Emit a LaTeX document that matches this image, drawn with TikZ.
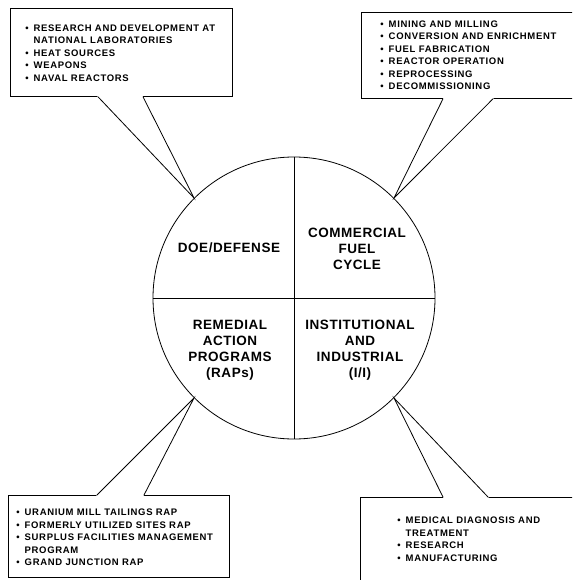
\documentclass[tikz,border=0pt]{standalone}
\usepackage{fontspec}
\setmainfont{Liberation Sans}
\newfontfamily\listfont{Liberation Sans}[LetterSpace=7]
\newfontfamily\sectorfont{Liberation Sans}[LetterSpace=4]
\usetikzlibrary{calc}

\tikzset{
	box/.style={draw, line width=0.8pt, anchor=north west, inner sep=0},
	list/.style={anchor=base west, inner sep=0, font=\listfont\bfseries\fontsize{9.5}{12.5}\selectfont},
	sector/.style={align=center, inner sep=0, font=\sectorfont\bfseries\fontsize{13.5}{16}\selectfont},
}

\begin{document}
\begin{tikzpicture}[x=1pt, y=-1pt, line width=0.8pt]
	\useasboundingbox (0,0) rectangle (572,580);
	\clip (0,0) rectangle (572,580);
	\fill[white] (0,0) rectangle (572,580);

	% callout boxes
	\node[box, minimum width=222pt, minimum height=88pt] (defbox) at (10,8) {};
	\node[box, minimum width=260pt, minimum height=86pt] (fuelbox) at (361,12) {};
	\node[box, minimum width=221pt, minimum height=82pt] (rapbox) at (8,495) {};
	\node[box, minimum width=260pt, minimum height=120pt] (iibox) at (360,497) {};

	\coordinate (defl) at ([xshift=88pt]defbox.south west);
	\coordinate (defr) at ([xshift=133pt]defbox.south west);
	\coordinate (fuell) at ([xshift=82pt]fuelbox.south west);
	\coordinate (fuelr) at ([xshift=132pt]fuelbox.south west);
	\coordinate (rapl) at ([xshift=89pt]rapbox.north west);
	\coordinate (rapr) at ([xshift=136pt]rapbox.north west);
	\coordinate (iil) at ([xshift=83pt]iibox.north west);
	\coordinate (iir) at ([xshift=128pt]iibox.north west);

	\node[draw, circle, minimum size=282pt, inner sep=0] (ring) at (294,298) {};

	\foreach \b/\a in {def/135, fuel/45, rap/225, ii/315}
	{
		\fill[white] ($(\b l)!-1.2pt!(ring.\a)$) -- (ring.\a) -- ($(\b r)!-1.2pt!(ring.\a)$) -- cycle;
		\draw (\b l) -- (ring.\a) -- (\b r);
	}
	\draw (ring.north) -- (ring.south);
	\draw (ring.west) -- (ring.east);

	% sectors
	\node[sector] (doe) at (229,248) {DOE/DEFENSE};
	\node[sector] (cfc) at (357,249) {COMMERCIAL\\FUEL\\CYCLE};
	\node[sector] (remedial) at (230,350) {REMEDIAL\\ACTION\\PROGRAMS\\(RAPs)};
	\node[sector] (instind) at (360,350) {INSTITUTIONAL\\AND\\INDUSTRIAL\\(I/I)};

	% lists
	\node[list] (deflist) at (25,31.5) {\begin{tabular}[t]{@{}l@{\hspace{5pt}}l@{}}
		\textbullet & RESEARCH AND DEVELOPMENT AT\\
		& NATIONAL LABORATORIES\\
		\textbullet & HEAT SOURCES\\
		\textbullet & WEAPONS\\
		\textbullet & NAVAL REACTORS
	\end{tabular}};
	\node[list] (fuellist) at (380,27.5) {\begin{tabular}[t]{@{}l@{\hspace{5pt}}l@{}}
		\textbullet & MINING AND MILLING\\
		\textbullet & CONVERSION AND ENRICHMENT\\
		\textbullet & FUEL FABRICATION\\
		\textbullet & REACTOR OPERATION\\
		\textbullet & REPROCESSING\\
		\textbullet & DECOMMISSIONING
	\end{tabular}};
	\node[list] (raplist) at (16,515.5) {\begin{tabular}[t]{@{}l@{\hspace{5pt}}l@{}}
		\textbullet & URANIUM MILL TAILINGS RAP\\
		\textbullet & FORMERLY UTILIZED SITES RAP\\
		\textbullet & SURPLUS FACILITIES MANAGEMENT\\
		& PROGRAM\\
		\textbullet & GRAND JUNCTION RAP
	\end{tabular}};
	\node[list] (iilist) at (397,523.5) {\begin{tabular}[t]{@{}l@{\hspace{5pt}}l@{}}
		\textbullet & MEDICAL DIAGNOSIS AND\\
		& TREATMENT\\
		\textbullet & RESEARCH\\
		\textbullet & MANUFACTURING
	\end{tabular}};
\end{tikzpicture}
\end{document}
